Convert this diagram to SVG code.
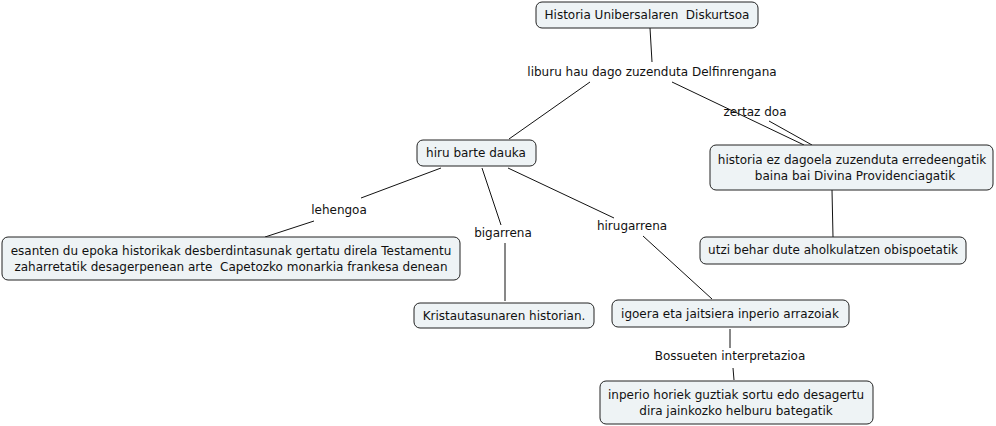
<svg xmlns="http://www.w3.org/2000/svg" width="996" height="426" viewBox="0 0 996 426">
<style>
.n rect{fill:#eef3f5;stroke:#222;stroke-width:1}
text{font-family:"DejaVu Sans",Verdana,sans-serif;font-size:12px;fill:#111;text-anchor:middle;white-space:pre}
.c line{stroke:#111;stroke-width:1}
</style>
<rect width="996" height="426" fill="#fff"/>
<g class="c">
<line x1="650" y1="28" x2="652" y2="62"/>
<line x1="590" y1="82" x2="509" y2="139"/>
<line x1="672" y1="82" x2="804" y2="145"/>
<line x1="769" y1="121" x2="812" y2="145"/>
<line x1="441" y1="168" x2="361" y2="198"/>
<line x1="314" y1="221" x2="265" y2="237"/>
<line x1="482" y1="168" x2="501" y2="225"/>
<line x1="505" y1="243" x2="505" y2="301"/>
<line x1="508" y1="168" x2="614" y2="218"/>
<line x1="643" y1="236" x2="712" y2="299"/>
<line x1="832" y1="190" x2="833" y2="237"/>
<line x1="730" y1="329" x2="730" y2="348"/>
<line x1="733" y1="368" x2="734" y2="380"/>
</g>
<g id="n1" class="n"><rect x="536" y="2" width="222" height="26" rx="6"/><text x="647" y="19" xml:space="preserve">Historia Unibersalaren  Diskurtsoa</text></g>
<g id="l1"><text x="652" y="76">liburu hau dago zuzenduta Delfinrengana</text></g>
<g id="l2"><text x="755" y="116">zertaz doa</text></g>
<g id="n2" class="n"><rect x="417" y="140" width="119" height="26" rx="6"/><text x="476" y="157">hiru barte dauka</text></g>
<g id="n3" class="n"><rect x="710" y="145" width="283" height="45" rx="6"/><text x="852" y="164">historia ez dagoela zuzenduta erredeengatik</text><text x="855" y="180">baina bai Divina Providenciagatik</text></g>
<g id="n4" class="n"><rect x="700" y="237" width="266" height="27" rx="6"/><text x="833" y="254">utzi behar dute aholkulatzen obispoetatik</text></g>
<g id="l3"><text x="339" y="214">lehengoa</text></g>
<g id="l4"><text x="503" y="237">bigarrena</text></g>
<g id="l5"><text x="632" y="230">hirugarrena</text></g>
<g id="n5" class="n"><rect x="2" y="237" width="458" height="43" rx="6"/><text x="231" y="255">esanten du epoka historikak desberdintasunak gertatu direla Testamentu</text><text x="231" y="271" xml:space="preserve">zaharretatik desagerpenean arte  Capetozko monarkia frankesa denean</text></g>
<g id="n6" class="n"><rect x="414" y="303" width="180" height="25" rx="6"/><text x="504" y="320">Kristautasunaren historian.</text></g>
<g id="n7" class="n"><rect x="612" y="300" width="237" height="27" rx="6"/><text x="730" y="318">igoera eta jaitsiera inperio arrazoiak</text></g>
<g id="l6"><text x="730" y="360">Bossueten interpretazioa</text></g>
<g id="n8" class="n"><rect x="600" y="381" width="273" height="43" rx="6"/><text x="736" y="399">inperio horiek guztiak sortu edo desagertu</text><text x="736" y="415">dira jainkozko helburu bategatik</text></g>
</svg>
